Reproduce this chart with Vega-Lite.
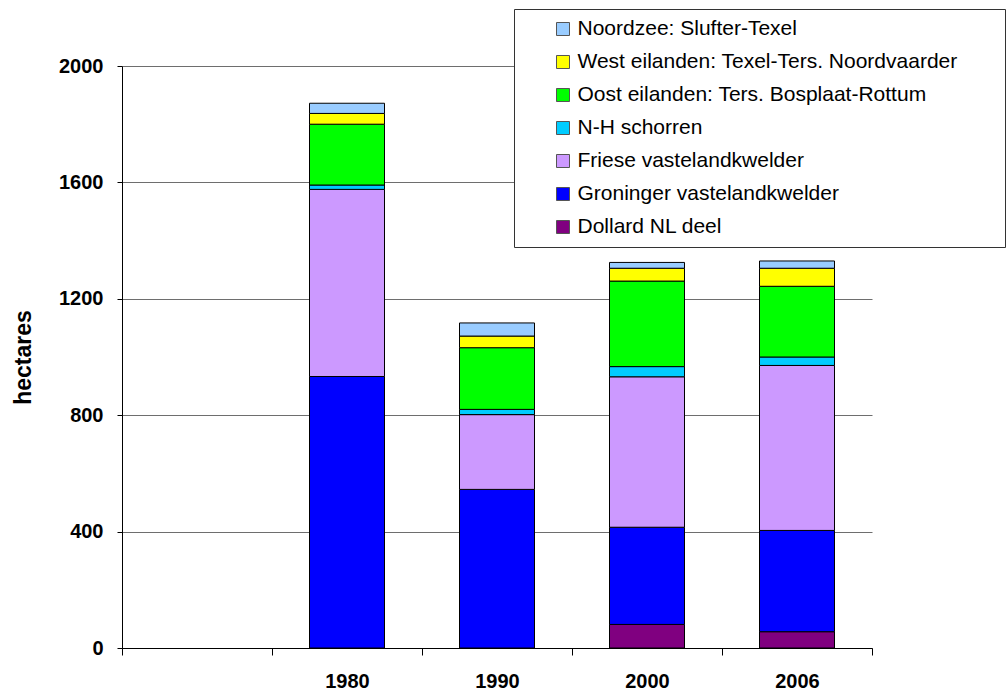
{
  "$schema": "https://vega.github.io/schema/vega-lite/v6.json",
  "width": 750,
  "height": 582,
  "autosize": {"type": "none"},
  "padding": {"left": 122, "top": 66, "right": 134, "bottom": 45},
  "background": "white",
  "config": {"view": {"stroke": null}, "font": "Liberation Sans"},
  "data": {
    "values": [
      {"year": "1980", "series": "Groninger vastelandkwelder", "k": 2, "ha": 933},
      {"year": "1980", "series": "Friese vastelandkwelder", "k": 3, "ha": 643},
      {"year": "1980", "series": "N-H schorren", "k": 4, "ha": 15},
      {"year": "1980", "series": "Oost eilanden: Ters. Bosplaat-Rottum", "k": 5, "ha": 209},
      {"year": "1980", "series": "West eilanden: Texel-Ters. Noordvaarder", "k": 6, "ha": 37},
      {"year": "1980", "series": "Noordzee: Slufter-Texel", "k": 7, "ha": 35},
      {"year": "1990", "series": "Groninger vastelandkwelder", "k": 2, "ha": 545},
      {"year": "1990", "series": "Friese vastelandkwelder", "k": 3, "ha": 257},
      {"year": "1990", "series": "N-H schorren", "k": 4, "ha": 18},
      {"year": "1990", "series": "Oost eilanden: Ters. Bosplaat-Rottum", "k": 5, "ha": 212},
      {"year": "1990", "series": "West eilanden: Texel-Ters. Noordvaarder", "k": 6, "ha": 40},
      {"year": "1990", "series": "Noordzee: Slufter-Texel", "k": 7, "ha": 45},
      {"year": "2000", "series": "Dollard NL deel", "k": 1, "ha": 81},
      {"year": "2000", "series": "Groninger vastelandkwelder", "k": 2, "ha": 334},
      {"year": "2000", "series": "Friese vastelandkwelder", "k": 3, "ha": 517},
      {"year": "2000", "series": "N-H schorren", "k": 4, "ha": 35},
      {"year": "2000", "series": "Oost eilanden: Ters. Bosplaat-Rottum", "k": 5, "ha": 294},
      {"year": "2000", "series": "West eilanden: Texel-Ters. Noordvaarder", "k": 6, "ha": 44},
      {"year": "2000", "series": "Noordzee: Slufter-Texel", "k": 7, "ha": 20},
      {"year": "2006", "series": "Dollard NL deel", "k": 1, "ha": 56},
      {"year": "2006", "series": "Groninger vastelandkwelder", "k": 2, "ha": 348},
      {"year": "2006", "series": "Friese vastelandkwelder", "k": 3, "ha": 567},
      {"year": "2006", "series": "N-H schorren", "k": 4, "ha": 29},
      {"year": "2006", "series": "Oost eilanden: Ters. Bosplaat-Rottum", "k": 5, "ha": 243},
      {"year": "2006", "series": "West eilanden: Texel-Ters. Noordvaarder", "k": 6, "ha": 62},
      {"year": "2006", "series": "Noordzee: Slufter-Texel", "k": 7, "ha": 25}
    ]
  },
  "mark": {"type": "bar", "stroke": "black", "strokeWidth": 1, "width": {"band": 0.5}},
  "encoding": {
    "x": {
      "field": "year",
      "type": "nominal",
      "sort": null,
      "scale": {"domain": [" ", "1980", "1990", "2000", "2006"], "paddingInner": 0, "paddingOuter": 0},
      "axis": {
        "title": null,
        "labelAngle": 0,
        "labelFont": "Liberation Sans",
        "labelFontWeight": "bold",
        "labelFontSize": 20,
        "labelColor": "black",
        "tickBand": "extent",
        "ticks": true,
        "tickSize": 7,
        "tickColor": "black",
        "domainColor": "black",
        "labelPadding": 16,
        "grid": false
      }
    },
    "y": {
      "field": "ha",
      "type": "quantitative",
      "stack": "zero",
      "scale": {"domain": [0, 2000], "nice": false},
      "axis": {
        "title": "hectares",
        "values": [0, 400, 800, 1200, 1600, 2000],
        "format": "d",
        "grid": true,
        "gridColor": "#6e6e6e",
        "domainColor": "black",
        "tickColor": "black",
        "tickSize": 5,
        "labelPadding": 14,
        "labelFlush": false,
        "labelFont": "Liberation Sans",
        "labelFontSize": 20,
        "labelFontWeight": "bold",
        "labelColor": "black",
        "titleFont": "Liberation Sans",
        "titleFontSize": 23,
        "titleFontWeight": "bold",
        "titleColor": "black",
        "titleAngle": -90,
        "titleX": -99,
        "titleY": 291,
        "titleAlign": "center",
        "titleBaseline": "middle"
      }
    },
    "color": {
      "field": "series",
      "type": "nominal",
      "scale": {
        "domain": [
          "Noordzee: Slufter-Texel",
          "West eilanden: Texel-Ters. Noordvaarder",
          "Oost eilanden: Ters. Bosplaat-Rottum",
          "N-H schorren",
          "Friese vastelandkwelder",
          "Groninger vastelandkwelder",
          "Dollard NL deel"
        ],
        "range": ["#99ccff", "#ffff00", "#00ff00", "#00ccff", "#cc99ff", "#0000ff", "#800080"]
      },
      "legend": {
        "orient": "none",
        "legendX": 392,
        "legendY": -57,
        "title": "\u00a0",
        "titleOrient": "right",
        "titleFontSize": 2,
        "titlePadding": 38,
        "symbolType": "square",
        "symbolSize": 169,
        "symbolStrokeColor": "#555555",
        "symbolStrokeWidth": 1,
        "symbolOpacity": 1,
        "labelFont": "Liberation Sans",
        "labelFontSize": 21,
        "labelColor": "black",
        "labelLimit": 700,
        "rowPadding": 11,
        "padding": 9.5,
        "symbolOffset": 29,
        "labelOffset": 4,
        "strokeColor": "#333333",
        "fillColor": "white"
      }
    },
    "order": {"field": "k", "type": "quantitative"}
  }
}
